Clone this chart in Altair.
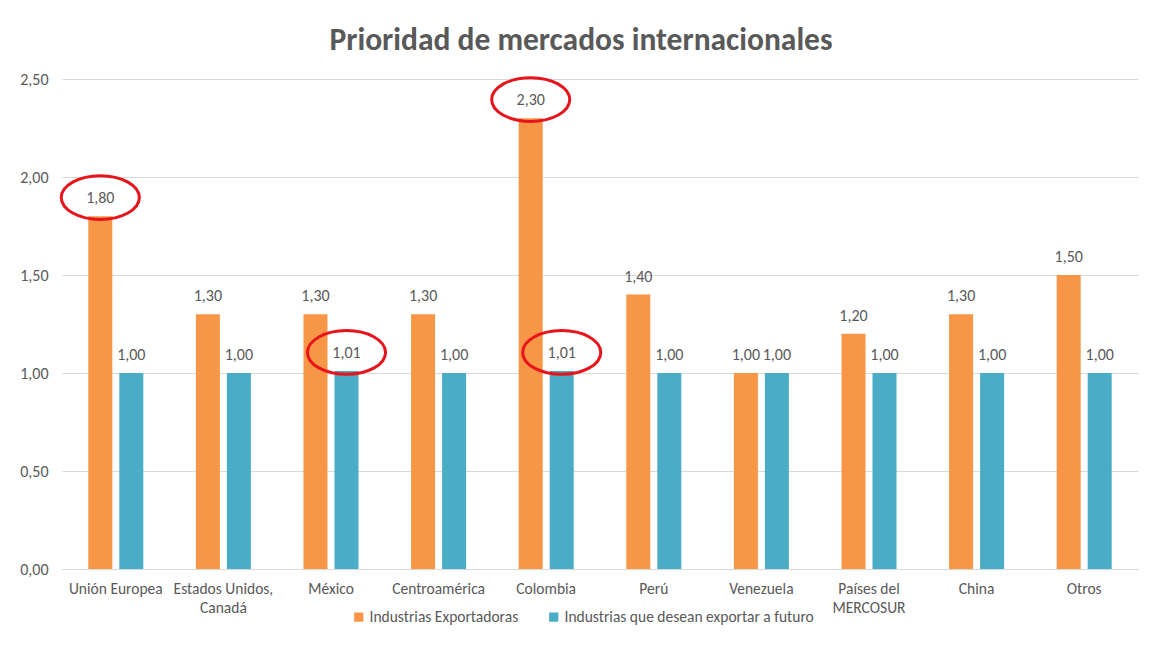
import altair as alt
import pandas as pd

categories = ["Unión Europea", "Estados Unidos,\nCanadá", "México", "Centroamérica", "Colombia",
              "Perú", "Venezuela", "Países del\nMERCOSUR", "China", "Otros"]
series_names = ["Industrias Exportadoras", "Industrias que desean exportar a futuro"]
exportadoras = [1.80, 1.30, 1.30, 1.30, 2.30, 1.40, 1.00, 1.20, 1.30, 1.50]
futuro = [1.00, 1.00, 1.01, 1.00, 1.01, 1.00, 1.00, 1.00, 1.00, 1.00]
# highlighted (circled) labels: (category index, series index)
highlighted = [(0, 0), (2, 1), (4, 0), (4, 1)]

rows = []
for i, c in enumerate(categories):
    rows.append({"cat": c, "serie": series_names[0], "v": exportadoras[i]})
    rows.append({"cat": c, "serie": series_names[1], "v": futuro[i]})
df = pd.DataFrame(rows)
hl = pd.DataFrame([{"cat": categories[ci], "serie": series_names[si],
                    "v": (exportadoras if si == 0 else futuro)[ci]} for ci, si in highlighted])

FONT = "Calibri, Carlito, Lato, sans-serif"
GRAY = "#595959"
colors = ["#F79646", "#4BACC6"]

x = alt.X("cat:N", sort=categories, title=None,
          scale=alt.Scale(paddingInner=0, paddingOuter=0),
          axis=alt.Axis(labelAngle=0, labelExpr="split(datum.label, '\\n')", labelFont=FONT,
                        labelFontSize=15.5, labelColor=GRAY, ticks=False, domainColor="#d9d9d9",
                        labelPadding=12, labelLineHeight=19, grid=False))
xo = alt.XOffset("serie:N", sort=series_names,
                 scale=alt.Scale(paddingInner=0.2258, paddingOuter=0.848))
y = alt.Y("v:Q", title=None,
          scale=alt.Scale(domain=[0, 2.5], nice=False),
          axis=alt.Axis(values=[0, 0.5, 1, 1.5, 2, 2.5],
                        labelExpr="replace(format(datum.value, '.2f'), '.', ',')",
                        labelFont=FONT, labelFontSize=16, labelColor=GRAY, ticks=False,
                        domain=False, gridColor="#d9d9d9", labelPadding=14))
color = alt.Color("serie:N", sort=series_names,
                  scale=alt.Scale(domain=series_names, range=colors),
                  legend=alt.Legend(title=None, orient="none", direction="horizontal",
                                    legendX=289, legendY=530, symbolType="square",
                                    symbolSize=85, symbolStrokeWidth=0, labelFont=FONT,
                                    labelFontSize=15.5, labelColor=GRAY, columnPadding=27,
                                    labelOffset=3, labelLimit=500))

base = alt.Chart(df)
bars = base.mark_bar().encode(x=x, xOffset=xo, y=y, color=color)
labels = base.transform_calculate(
    lbl="replace(format(datum.v, '.2f'), '.', ',')"
).mark_text(dy=-18, baseline="middle", font=FONT, fontSize=16, color=GRAY).encode(
    x=x, xOffset=xo, y=y, text="lbl:N")
ellipse = "M -1 0 A 1 0.56 0 1 0 1 0 A 1 0.56 0 1 0 -1 0 Z"
rings = alt.Chart(hl).transform_calculate(
    vr="datum.v + 0.095"
).mark_point(shape=ellipse, size=6100, filled=False, stroke="#E8141B",
             strokeWidth=3, opacity=1).encode(
    x=x, xOffset=xo, y=alt.Y("vr:Q", scale=alt.Scale(domain=[0, 2.5], nice=False)))

chart = alt.layer(bars, labels, rings).properties(
    width=1076, height=490,
    autosize=alt.AutoSizeParams(type="none"),
    padding={"left": 54, "top": 71, "right": 7, "bottom": 88},
    title=alt.TitleParams("Prioridad de mercados internacionales", font=FONT, fontSize=31.5,
                          fontWeight="bold", color=GRAY, anchor="middle", offset=15, dx=-19),
).configure_view(stroke=None)

chart.save("out.html", embed_options={"renderer": "svg", "actions": False})
